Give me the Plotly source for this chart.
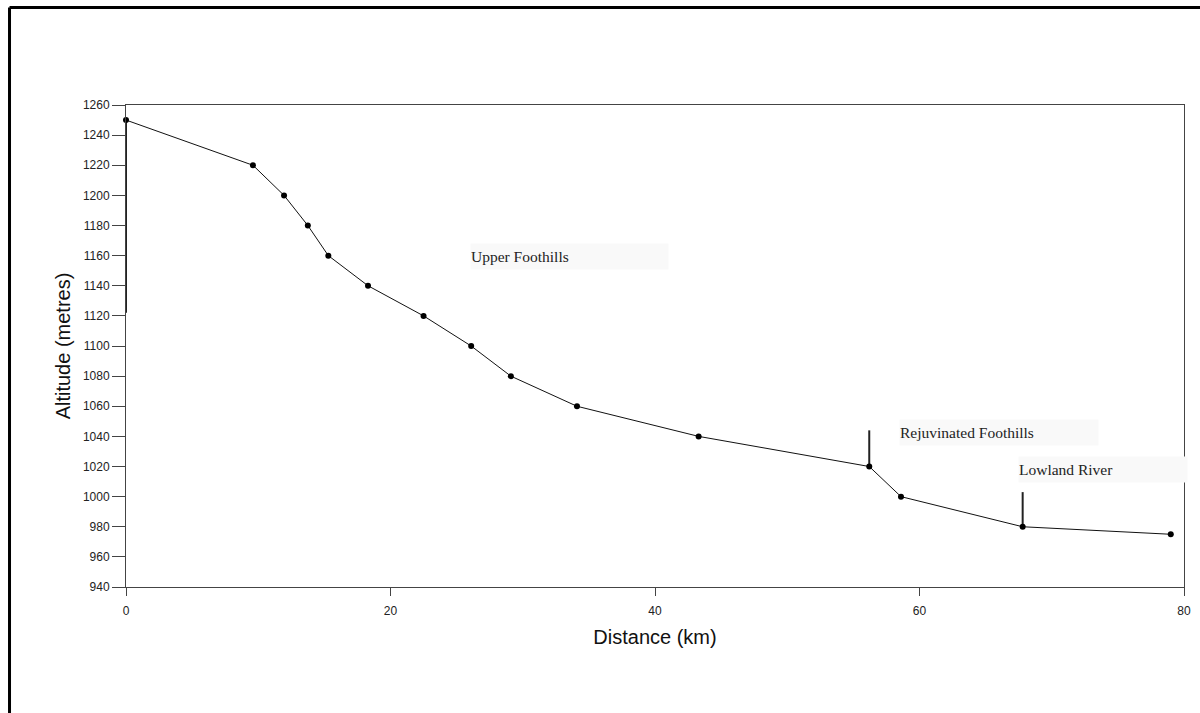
import plotly.graph_objects as go

# Data
distance_km = [0, 9.6, 11.95, 13.75, 15.3, 18.3, 22.5, 26.1, 29.1, 34.1, 43.3, 56.2, 58.6, 67.8, 79.0]
altitude_m = [1250, 1220, 1200, 1180, 1160, 1140, 1120, 1100, 1080, 1060, 1040, 1020, 1000, 980, 975]

# Zone boundary marker lines (x, y_bottom, y_top)
marker_x = [0, 56.2, 67.8]
marker_y0 = [1250, 1020, 980]
marker_y1 = [1122, 1044, 1003]

# Zone labels
zone_labels = ["Upper Foothills", "Rejuvinated Foothills", "Lowland River"]
zone_label_x = [26.0, 58.45, 67.45]
zone_label_y = [1159.5, 1042.5, 1017.7]
zone_label_w = [197, 198, 168]

x_ticks = [0, 20, 40, 60, 80]
y_ticks = list(range(940, 1261, 20))

fig = go.Figure()

for x, y0, y1 in zip(marker_x, marker_y0, marker_y1):
    fig.add_trace(go.Scatter(x=[x, x], y=[y0, y1], mode="lines",
                             line=dict(color="#222222", width=2),
                             hoverinfo="skip", showlegend=False, cliponaxis=False))

fig.add_trace(go.Scatter(
    x=distance_km, y=altitude_m, mode="lines+markers",
    line=dict(color="#111111", width=1),
    marker=dict(color="black", size=6, symbol="circle"),
    showlegend=False, cliponaxis=False,
))

for txt, x, y, w in zip(zone_labels, zone_label_x, zone_label_y, zone_label_w):
    fig.add_annotation(x=x, y=y, xref="x", yref="y", text=txt, showarrow=False,
                       xanchor="left", yanchor="middle", align="left",
                       width=w, height=25, borderpad=0,
                       bgcolor="#f9f9f9",
                       font=dict(family="Liberation Serif, Times New Roman, serif", size=15.5, color="#222222"))

axis_font = dict(family="Liberation Sans, Arial, sans-serif", size=12, color="#222222")
title_font = dict(family="Liberation Sans, Arial, sans-serif", size=20, color="#111111")

fig.update_xaxes(
    range=[0, 80], tickvals=x_ticks, ticktext=[str(v) for v in x_ticks],
    showgrid=False, zeroline=False, showline=True, linecolor="#444444", linewidth=1,
    mirror=True, ticks="outside", ticklen=8, tickcolor="#444444", tickwidth=1,
    tickfont=axis_font, ticklabelstandoff=5,
    title=dict(text="Distance (km)", font=title_font, standoff=12),
)
fig.update_yaxes(
    range=[940, 1260], tickvals=y_ticks, ticktext=[str(v) for v in y_ticks],
    showgrid=False, zeroline=False, showline=True, linecolor="#444444", linewidth=1,
    mirror=True, ticks="outside", ticklen=13, tickcolor="#444444", tickwidth=1,
    tickfont=axis_font,
    title=dict(text="Altitude (metres)", font=title_font, standoff=6),
)

# outer frame (top and left edges, as in the cropped original)
fig.add_shape(type="line", xref="paper", yref="paper", x0=-0.1101, x1=1.05, y0=1.2023, y1=1.2023,
              line=dict(color="black", width=3))
fig.add_shape(type="line", xref="paper", yref="paper", x0=-0.1101, x1=-0.1101, y0=1.2023, y1=-0.3,
              line=dict(color="black", width=3))

fig.update_layout(
    width=1200, height=713,
    margin=dict(l=126, r=16, t=105, b=126, autoexpand=False),
    paper_bgcolor="white", plot_bgcolor="white",
    showlegend=False,
)

fig.write_html("out.html")
